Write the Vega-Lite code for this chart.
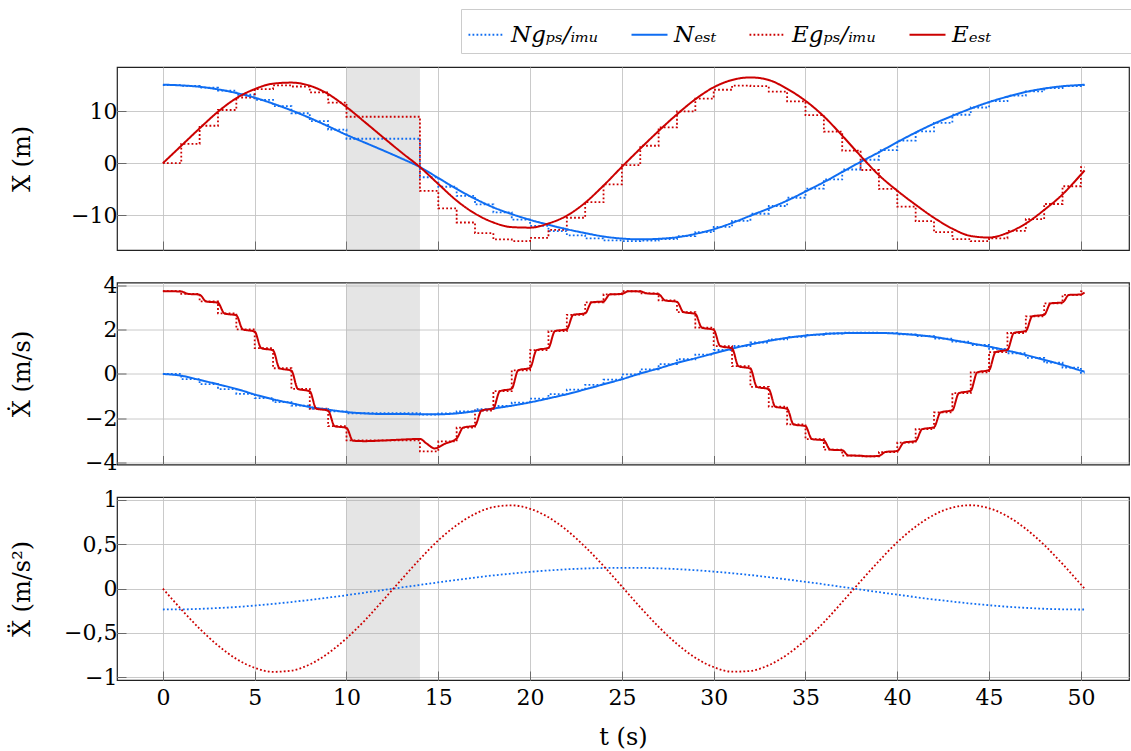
{
  "$schema": "https://vega.github.io/schema/vega-lite/v6.json",
  "background": "white",
  "padding": {"left": 9, "top": 8, "right": 0, "bottom": 0},
  "spacing": 32.5,
  "bounds": "flush",
  "config": {
    "font": "DejaVu Serif",
    "style": {
      "guide-title": {"font": "DejaVu Serif", "fontWeight": "normal"},
      "guide-label": {"font": "DejaVu Serif"}
    },
    "view": {"stroke": "#222222", "strokeWidth": 1.2},
    "axis": {
      "domain": false,
      "grid": true,
      "gridColor": "#c4c4c4",
      "gridWidth": 0.9,
      "ticks": true,
      "tickColor": "#6a6a6a",
      "tickSize": -9,
      "tickWidth": 1,
      "labelFont": "DejaVu Serif",
      "labelFontSize": 22,
      "labelColor": "#000000",
      "titleFont": "DejaVu Serif",
      "titleFontSize": 24,
      "titleFontWeight": "normal",
      "titleFontStyle": "normal",
      "titleColor": "#000000"
    },
    "legend": {
      "orient": "none",
      "legendX": 344,
      "legendY": -58,
      "direction": "horizontal",
      "columns": 4,
      "symbolType": "stroke",
      "symbolSize": 1296,
      "symbolStrokeWidth": 2.2,
      "labelFont": "DejaVu Serif",
      "labelFontSize": 23,
      "labelFontStyle": "italic",
      "labelColor": "#000000",
      "labelOffset": 5,
      "labelLimit": 0,
      "columnPadding": 28,
      "padding": 6,
      "strokeColor": "#cccccc",
      "fillColor": "white"
    }
  },
  "datasets": {
    "outage": [{"t": 10, "t2": 14}],
    "pos_gps": [
      {"t":0,"s":"Ngps","v":15.0},{"t":1,"s":"Ngps","v":14.88},{"t":2,"s":"Ngps","v":14.53},{"t":3,"s":"Ngps","v":13.95},{"t":4,"s":"Ngps","v":13.16},{"t":5,"s":"Ngps","v":12.16},{"t":6,"s":"Ngps","v":10.97},{"t":7,"s":"Ngps","v":9.6},{"t":8,"s":"Ngps","v":8.09},{"t":9,"s":"Ngps","v":6.44},{"t":10,"s":"Ngps","v":4.7},{"t":11,"s":"Ngps","v":4.7},{"t":12,"s":"Ngps","v":4.7},{"t":13,"s":"Ngps","v":4.7},{"t":14,"s":"Ngps","v":-2.71},{"t":15,"s":"Ngps","v":-4.53},{"t":16,"s":"Ngps","v":-6.28},{"t":17,"s":"Ngps","v":-7.93},{"t":18,"s":"Ngps","v":-9.46},{"t":19,"s":"Ngps","v":-10.84},{"t":20,"s":"Ngps","v":-12.05},{"t":21,"s":"Ngps","v":-13.08},{"t":22,"s":"Ngps","v":-13.87},{"t":23,"s":"Ngps","v":-14.46},{"t":24,"s":"Ngps","v":-14.86},{"t":25,"s":"Ngps","v":-15.0},{"t":26,"s":"Ngps","v":-14.91},{"t":27,"s":"Ngps","v":-14.58},{"t":28,"s":"Ngps","v":-14.03},{"t":29,"s":"Ngps","v":-13.26},{"t":30,"s":"Ngps","v":-12.24},{"t":31,"s":"Ngps","v":-11.09},{"t":32,"s":"Ngps","v":-9.73},{"t":33,"s":"Ngps","v":-8.24},{"t":34,"s":"Ngps","v":-6.65},{"t":35,"s":"Ngps","v":-4.89},{"t":36,"s":"Ngps","v":-3.13},{"t":37,"s":"Ngps","v":-1.22},{"t":38,"s":"Ngps","v":0.66},{"t":39,"s":"Ngps","v":2.52},{"t":40,"s":"Ngps","v":4.32},{"t":41,"s":"Ngps","v":6.11},{"t":42,"s":"Ngps","v":7.75},{"t":43,"s":"Ngps","v":9.32},{"t":44,"s":"Ngps","v":10.71},{"t":45,"s":"Ngps","v":11.93},{"t":46,"s":"Ngps","v":12.98},{"t":47,"s":"Ngps","v":13.81},{"t":48,"s":"Ngps","v":14.44},{"t":49,"s":"Ngps","v":14.84},{"t":50,"s":"Ngps","v":15.0},{"t":50.2,"s":"Ngps","v":15.0},
      {"t":0,"s":"Egps","v":0},{"t":1,"s":"Egps","v":3.72},{"t":2,"s":"Egps","v":7.2},{"t":3,"s":"Egps","v":10.23},{"t":4,"s":"Egps","v":12.63},{"t":5,"s":"Egps","v":14.25},{"t":6,"s":"Egps","v":14.96},{"t":7,"s":"Egps","v":14.75},{"t":8,"s":"Egps","v":13.62},{"t":9,"s":"Egps","v":11.64},{"t":10,"s":"Egps","v":8.93},{"t":11,"s":"Egps","v":8.93},{"t":12,"s":"Egps","v":8.93},{"t":13,"s":"Egps","v":8.93},{"t":14,"s":"Egps","v":-5.32},{"t":15,"s":"Egps","v":-8.68},{"t":16,"s":"Egps","v":-11.41},{"t":17,"s":"Egps","v":-13.45},{"t":18,"s":"Egps","v":-14.67},{"t":19,"s":"Egps","v":-14.99},{"t":20,"s":"Egps","v":-14.36},{"t":21,"s":"Egps","v":-12.84},{"t":22,"s":"Egps","v":-10.5},{"t":23,"s":"Egps","v":-7.51},{"t":24,"s":"Egps","v":-4.08},{"t":25,"s":"Egps","v":-0.38},{"t":26,"s":"Egps","v":3.35},{"t":27,"s":"Egps","v":6.87},{"t":28,"s":"Egps","v":9.96},{"t":29,"s":"Egps","v":12.43},{"t":30,"s":"Egps","v":14.12},{"t":31,"s":"Egps","v":14.93},{"t":32,"s":"Egps","v":14.82},{"t":33,"s":"Egps","v":13.78},{"t":34,"s":"Egps","v":11.88},{"t":35,"s":"Egps","v":9.24},{"t":36,"s":"Egps","v":6.06},{"t":37,"s":"Egps","v":2.43},{"t":38,"s":"Egps","v":-1.31},{"t":39,"s":"Egps","v":-4.96},{"t":40,"s":"Egps","v":-8.37},{"t":41,"s":"Egps","v":-11.16},{"t":42,"s":"Egps","v":-13.28},{"t":43,"s":"Egps","v":-14.59},{"t":44,"s":"Egps","v":-15.0},{"t":45,"s":"Egps","v":-14.45},{"t":46,"s":"Egps","v":-13.01},{"t":47,"s":"Egps","v":-10.76},{"t":48,"s":"Egps","v":-7.85},{"t":49,"s":"Egps","v":-4.44},{"t":50,"s":"Egps","v":-0.75},{"t":50.2,"s":"Egps","v":-0.75}
    ],
    "pos_est": [
      {"t":0,"s":"Nest","v":15.1},{"t":1,"s":"Nest","v":14.96},{"t":2,"s":"Nest","v":14.7},{"t":3,"s":"Nest","v":14.2},{"t":4,"s":"Nest","v":13.5},{"t":5,"s":"Nest","v":12.6},{"t":6,"s":"Nest","v":11.45},{"t":7,"s":"Nest","v":10.15},{"t":8,"s":"Nest","v":8.7},{"t":9,"s":"Nest","v":7.1},{"t":10,"s":"Nest","v":5.45},{"t":11,"s":"Nest","v":3.95},{"t":12,"s":"Nest","v":2.45},{"t":13,"s":"Nest","v":0.9},{"t":14,"s":"Nest","v":-0.75},{"t":15,"s":"Nest","v":-2.85},{"t":16,"s":"Nest","v":-4.95},{"t":17,"s":"Nest","v":-6.85},{"t":18,"s":"Nest","v":-8.5},{"t":19,"s":"Nest","v":-9.8},{"t":20,"s":"Nest","v":-10.9},{"t":21,"s":"Nest","v":-11.85},{"t":22,"s":"Nest","v":-12.7},{"t":23,"s":"Nest","v":-13.45},{"t":24,"s":"Nest","v":-14.1},{"t":25,"s":"Nest","v":-14.5},{"t":26,"s":"Nest","v":-14.65},{"t":27,"s":"Nest","v":-14.55},{"t":28,"s":"Nest","v":-14.25},{"t":29,"s":"Nest","v":-13.6},{"t":30,"s":"Nest","v":-12.7},{"t":31,"s":"Nest","v":-11.5},{"t":32,"s":"Nest","v":-10.1},{"t":33,"s":"Nest","v":-8.7},{"t":34,"s":"Nest","v":-7.2},{"t":35,"s":"Nest","v":-5.45},{"t":36,"s":"Nest","v":-3.65},{"t":37,"s":"Nest","v":-1.7},{"t":38,"s":"Nest","v":0.25},{"t":39,"s":"Nest","v":2.1},{"t":40,"s":"Nest","v":4.05},{"t":41,"s":"Nest","v":5.9},{"t":42,"s":"Nest","v":7.6},{"t":43,"s":"Nest","v":9.1},{"t":44,"s":"Nest","v":10.5},{"t":45,"s":"Nest","v":11.75},{"t":46,"s":"Nest","v":12.8},{"t":47,"s":"Nest","v":13.7},{"t":48,"s":"Nest","v":14.35},{"t":49,"s":"Nest","v":14.8},{"t":50,"s":"Nest","v":15.05},{"t":50.2,"s":"Nest","v":15.1},
      {"t":0,"s":"Eest","v":0},{"t":1,"s":"Eest","v":3.35},{"t":2,"s":"Eest","v":6.7},{"t":3,"s":"Eest","v":9.9},{"t":4,"s":"Eest","v":12.5},{"t":5,"s":"Eest","v":14.25},{"t":6,"s":"Eest","v":15.3},{"t":7,"s":"Eest","v":15.5},{"t":8,"s":"Eest","v":14.9},{"t":9,"s":"Eest","v":13.3},{"t":10,"s":"Eest","v":10.8},{"t":11,"s":"Eest","v":7.9},{"t":12,"s":"Eest","v":4.95},{"t":13,"s":"Eest","v":2.05},{"t":14,"s":"Eest","v":-0.75},{"t":15,"s":"Eest","v":-4.0},{"t":16,"s":"Eest","v":-7.2},{"t":17,"s":"Eest","v":-9.7},{"t":18,"s":"Eest","v":-11.4},{"t":19,"s":"Eest","v":-12.3},{"t":20,"s":"Eest","v":-12.4},{"t":21,"s":"Eest","v":-11.6},{"t":22,"s":"Eest","v":-10.1},{"t":23,"s":"Eest","v":-7.6},{"t":24,"s":"Eest","v":-4.3},{"t":25,"s":"Eest","v":-0.7},{"t":26,"s":"Eest","v":2.8},{"t":27,"s":"Eest","v":6.2},{"t":28,"s":"Eest","v":9.4},{"t":29,"s":"Eest","v":12.3},{"t":30,"s":"Eest","v":14.6},{"t":31,"s":"Eest","v":16.0},{"t":32,"s":"Eest","v":16.5},{"t":33,"s":"Eest","v":16.0},{"t":34,"s":"Eest","v":14.3},{"t":35,"s":"Eest","v":12.0},{"t":36,"s":"Eest","v":9.0},{"t":37,"s":"Eest","v":5.3},{"t":38,"s":"Eest","v":1.4},{"t":39,"s":"Eest","v":-2.3},{"t":40,"s":"Eest","v":-5.3},{"t":41,"s":"Eest","v":-8.0},{"t":42,"s":"Eest","v":-10.5},{"t":43,"s":"Eest","v":-12.6},{"t":44,"s":"Eest","v":-14.0},{"t":45,"s":"Eest","v":-14.3},{"t":46,"s":"Eest","v":-13.4},{"t":47,"s":"Eest","v":-11.6},{"t":48,"s":"Eest","v":-9.0},{"t":49,"s":"Eest","v":-6.0},{"t":50,"s":"Eest","v":-2.2},{"t":50.2,"s":"Eest","v":-1.4}
    ],
    "vel_gps": [
      {"t":0,"s":"Ngps","v":0},{"t":1,"s":"Ngps","v":-0.234},{"t":2,"s":"Ngps","v":-0.465},{"t":3,"s":"Ngps","v":-0.688},{"t":4,"s":"Ngps","v":-0.901},{"t":5,"s":"Ngps","v":-1.099},{"t":6,"s":"Ngps","v":-1.281},{"t":7,"s":"Ngps","v":-1.442},{"t":8,"s":"Ngps","v":-1.581},{"t":9,"s":"Ngps","v":-1.695},{"t":10,"s":"Ngps","v":-1.783},{"t":11,"s":"Ngps","v":-1.783},{"t":12,"s":"Ngps","v":-1.783},{"t":13,"s":"Ngps","v":-1.783},{"t":14,"s":"Ngps","v":-1.846},{"t":15,"s":"Ngps","v":-1.789},{"t":16,"s":"Ngps","v":-1.705},{"t":17,"s":"Ngps","v":-1.593},{"t":18,"s":"Ngps","v":-1.456},{"t":19,"s":"Ngps","v":-1.298},{"t":20,"s":"Ngps","v":-1.118},{"t":21,"s":"Ngps","v":-0.919},{"t":22,"s":"Ngps","v":-0.715},{"t":23,"s":"Ngps","v":-0.497},{"t":24,"s":"Ngps","v":-0.258},{"t":25,"s":"Ngps","v":-0.023},{"t":26,"s":"Ngps","v":0.211},{"t":27,"s":"Ngps","v":0.444},{"t":28,"s":"Ngps","v":0.666},{"t":29,"s":"Ngps","v":0.877},{"t":30,"s":"Ngps","v":1.086},{"t":31,"s":"Ngps","v":1.267},{"t":32,"s":"Ngps","v":1.428},{"t":33,"s":"Ngps","v":1.57},{"t":34,"s":"Ngps","v":1.683},{"t":35,"s":"Ngps","v":1.774},{"t":36,"s":"Ngps","v":1.836},{"t":37,"s":"Ngps","v":1.871},{"t":38,"s":"Ngps","v":1.875},{"t":39,"s":"Ngps","v":1.85},{"t":40,"s":"Ngps","v":1.797},{"t":41,"s":"Ngps","v":1.715},{"t":42,"s":"Ngps","v":1.607},{"t":43,"s":"Ngps","v":1.47},{"t":44,"s":"Ngps","v":1.314},{"t":45,"s":"Ngps","v":1.14},{"t":46,"s":"Ngps","v":0.94},{"t":47,"s":"Ngps","v":0.73},{"t":48,"s":"Ngps","v":0.51},{"t":49,"s":"Ngps","v":0.283},{"t":50,"s":"Ngps","v":0.047},{"t":50.2,"s":"Ngps","v":0.047},
      {"t":0,"s":"Egps","v":3.755},{"t":1,"s":"Egps","v":3.638},{"t":2,"s":"Egps","v":3.294},{"t":3,"s":"Egps","v":2.745},{"t":4,"s":"Egps","v":2.025},{"t":5,"s":"Egps","v":1.176},{"t":6,"s":"Egps","v":0.258},{"t":7,"s":"Egps","v":-0.678},{"t":8,"s":"Egps","v":-1.571},{"t":9,"s":"Egps","v":-2.369},{"t":10,"s":"Egps","v":-3.017},{"t":11,"s":"Egps","v":-3.017},{"t":12,"s":"Egps","v":-3.017},{"t":13,"s":"Egps","v":-3.017},{"t":14,"s":"Egps","v":-3.511},{"t":15,"s":"Egps","v":-3.063},{"t":16,"s":"Egps","v":-2.437},{"t":17,"s":"Egps","v":-1.664},{"t":18,"s":"Egps","v":-0.784},{"t":19,"s":"Egps","v":0.164},{"t":20,"s":"Egps","v":1.082},{"t":21,"s":"Egps","v":1.941},{"t":22,"s":"Egps","v":2.682},{"t":23,"s":"Egps","v":3.25},{"t":24,"s":"Egps","v":3.613},{"t":25,"s":"Egps","v":3.754},{"t":26,"s":"Egps","v":3.66},{"t":27,"s":"Egps","v":3.338},{"t":28,"s":"Egps","v":2.808},{"t":29,"s":"Egps","v":2.103},{"t":30,"s":"Egps","v":1.265},{"t":31,"s":"Egps","v":0.352},{"t":32,"s":"Egps","v":-0.585},{"t":33,"s":"Egps","v":-1.484},{"t":34,"s":"Egps","v":-2.292},{"t":35,"s":"Egps","v":-2.957},{"t":36,"s":"Egps","v":-3.435},{"t":37,"s":"Egps","v":-3.705},{"t":38,"s":"Egps","v":-3.741},{"t":39,"s":"Egps","v":-3.544},{"t":40,"s":"Egps","v":-3.117},{"t":41,"s":"Egps","v":-2.508},{"t":42,"s":"Egps","v":-1.748},{"t":43,"s":"Egps","v":-0.875},{"t":44,"s":"Egps","v":0.07},{"t":45,"s":"Egps","v":0.992},{"t":46,"s":"Egps","v":1.859},{"t":47,"s":"Egps","v":2.615},{"t":48,"s":"Egps","v":3.202},{"t":49,"s":"Egps","v":3.587},{"t":50,"s":"Egps","v":3.75},{"t":50.2,"s":"Egps","v":3.75}
    ],
    "vel_est": [
      {"t":0,"s":"Nest","v":0},{"t":1,"s":"Nest","v":-0.08},{"t":2,"s":"Nest","v":-0.27},{"t":3,"s":"Nest","v":-0.47},{"t":4,"s":"Nest","v":-0.68},{"t":5,"s":"Nest","v":-0.93},{"t":6,"s":"Nest","v":-1.15},{"t":7,"s":"Nest","v":-1.33},{"t":8,"s":"Nest","v":-1.5},{"t":9,"s":"Nest","v":-1.62},{"t":10,"s":"Nest","v":-1.73},{"t":11,"s":"Nest","v":-1.79},{"t":12,"s":"Nest","v":-1.82},{"t":13,"s":"Nest","v":-1.82},{"t":14,"s":"Nest","v":-1.83},{"t":15,"s":"Nest","v":-1.83},{"t":16,"s":"Nest","v":-1.79},{"t":17,"s":"Nest","v":-1.69},{"t":18,"s":"Nest","v":-1.57},{"t":19,"s":"Nest","v":-1.44},{"t":20,"s":"Nest","v":-1.29},{"t":21,"s":"Nest","v":-1.11},{"t":22,"s":"Nest","v":-0.92},{"t":23,"s":"Nest","v":-0.7},{"t":24,"s":"Nest","v":-0.47},{"t":25,"s":"Nest","v":-0.24},{"t":26,"s":"Nest","v":0.02},{"t":27,"s":"Nest","v":0.25},{"t":28,"s":"Nest","v":0.5},{"t":29,"s":"Nest","v":0.71},{"t":30,"s":"Nest","v":0.93},{"t":31,"s":"Nest","v":1.15},{"t":32,"s":"Nest","v":1.34},{"t":33,"s":"Nest","v":1.5},{"t":34,"s":"Nest","v":1.64},{"t":35,"s":"Nest","v":1.74},{"t":36,"s":"Nest","v":1.81},{"t":37,"s":"Nest","v":1.85},{"t":38,"s":"Nest","v":1.86},{"t":39,"s":"Nest","v":1.86},{"t":40,"s":"Nest","v":1.83},{"t":41,"s":"Nest","v":1.77},{"t":42,"s":"Nest","v":1.68},{"t":43,"s":"Nest","v":1.54},{"t":44,"s":"Nest","v":1.39},{"t":45,"s":"Nest","v":1.24},{"t":46,"s":"Nest","v":1.06},{"t":47,"s":"Nest","v":0.86},{"t":48,"s":"Nest","v":0.64},{"t":49,"s":"Nest","v":0.41},{"t":50,"s":"Nest","v":0.15},{"t":50.2,"s":"Nest","v":0.1},
      {"t":0,"s":"Eest","v":3.755},{"t":1,"s":"Eest","v":3.741},{"t":1.35,"s":"Eest","v":3.638},{"t":2,"s":"Eest","v":3.597},{"t":2.35,"s":"Eest","v":3.294},{"t":3,"s":"Eest","v":3.228},{"t":3.35,"s":"Eest","v":2.745},{"t":4,"s":"Eest","v":2.659},{"t":4.35,"s":"Eest","v":2.025},{"t":5,"s":"Eest","v":1.923},{"t":5.35,"s":"Eest","v":1.176},{"t":6,"s":"Eest","v":1.066},{"t":6.35,"s":"Eest","v":0.258},{"t":7,"s":"Eest","v":0.146},{"t":7.35,"s":"Eest","v":-0.678},{"t":8,"s":"Eest","v":-0.785},{"t":8.35,"s":"Eest","v":-1.571},{"t":9,"s":"Eest","v":-1.666},{"t":9.35,"s":"Eest","v":-2.369},{"t":10,"s":"Eest","v":-2.447},{"t":10.35,"s":"Eest","v":-3.03},{"t":11,"s":"Eest","v":-3.05},{"t":12,"s":"Eest","v":-3.02},{"t":13,"s":"Eest","v":-2.98},{"t":14,"s":"Eest","v":-2.95},{"t":14.35,"s":"Eest","v":-3.15},{"t":14.8,"s":"Eest","v":-3.38},{"t":15.35,"s":"Eest","v":-3.17},{"t":16,"s":"Eest","v":-2.93},{"t":16.35,"s":"Eest","v":-2.437},{"t":17,"s":"Eest","v":-2.344},{"t":17.35,"s":"Eest","v":-1.664},{"t":18,"s":"Eest","v":-1.558},{"t":18.35,"s":"Eest","v":-0.784},{"t":19,"s":"Eest","v":-0.67},{"t":19.35,"s":"Eest","v":0.164},{"t":20,"s":"Eest","v":0.274},{"t":20.35,"s":"Eest","v":1.082},{"t":21,"s":"Eest","v":1.185},{"t":21.35,"s":"Eest","v":1.941},{"t":22,"s":"Eest","v":2.03},{"t":22.35,"s":"Eest","v":2.682},{"t":23,"s":"Eest","v":2.75},{"t":23.35,"s":"Eest","v":3.25},{"t":24,"s":"Eest","v":3.294},{"t":24.35,"s":"Eest","v":3.613},{"t":25,"s":"Eest","v":3.63},{"t":25.35,"s":"Eest","v":3.754},{"t":26,"s":"Eest","v":3.743},{"t":26.35,"s":"Eest","v":3.66},{"t":27,"s":"Eest","v":3.621},{"t":27.35,"s":"Eest","v":3.338},{"t":28,"s":"Eest","v":3.274},{"t":28.35,"s":"Eest","v":2.808},{"t":29,"s":"Eest","v":2.723},{"t":29.35,"s":"Eest","v":2.103},{"t":30,"s":"Eest","v":2.002},{"t":30.35,"s":"Eest","v":1.265},{"t":31,"s":"Eest","v":1.155},{"t":31.35,"s":"Eest","v":0.352},{"t":32,"s":"Eest","v":0.24},{"t":32.35,"s":"Eest","v":-0.585},{"t":33,"s":"Eest","v":-0.693},{"t":33.35,"s":"Eest","v":-1.484},{"t":34,"s":"Eest","v":-1.581},{"t":34.35,"s":"Eest","v":-2.292},{"t":35,"s":"Eest","v":-2.372},{"t":35.35,"s":"Eest","v":-2.957},{"t":36,"s":"Eest","v":-3.014},{"t":36.35,"s":"Eest","v":-3.435},{"t":37,"s":"Eest","v":-3.467},{"t":37.35,"s":"Eest","v":-3.705},{"t":38,"s":"Eest","v":-3.709},{"t":38.35,"s":"Eest","v":-3.741},{"t":39,"s":"Eest","v":-3.717},{"t":39.35,"s":"Eest","v":-3.544},{"t":40,"s":"Eest","v":-3.493},{"t":40.35,"s":"Eest","v":-3.117},{"t":41,"s":"Eest","v":-3.044},{"t":41.35,"s":"Eest","v":-2.508},{"t":42,"s":"Eest","v":-2.417},{"t":42.35,"s":"Eest","v":-1.748},{"t":43,"s":"Eest","v":-1.643},{"t":43.35,"s":"Eest","v":-0.875},{"t":44,"s":"Eest","v":-0.762},{"t":44.35,"s":"Eest","v":0.07},{"t":45,"s":"Eest","v":0.181},{"t":45.35,"s":"Eest","v":0.992},{"t":46,"s":"Eest","v":1.096},{"t":46.35,"s":"Eest","v":1.859},{"t":47,"s":"Eest","v":1.95},{"t":47.35,"s":"Eest","v":2.615},{"t":48,"s":"Eest","v":2.685},{"t":48.35,"s":"Eest","v":3.202},{"t":49,"s":"Eest","v":3.248},{"t":49.35,"s":"Eest","v":3.587},{"t":50,"s":"Eest","v":3.607},{"t":50.2,"s":"Eest","v":3.7}
    ],
    "acc": [
      {"t":0,"s":"Ngps","v":-0.235},{"t":1,"s":"Ngps","v":-0.234},{"t":2,"s":"Ngps","v":-0.228},{"t":3,"s":"Ngps","v":-0.219},{"t":4,"s":"Ngps","v":-0.207},{"t":5,"s":"Ngps","v":-0.191},{"t":6,"s":"Ngps","v":-0.172},{"t":7,"s":"Ngps","v":-0.151},{"t":8,"s":"Ngps","v":-0.127},{"t":9,"s":"Ngps","v":-0.101},{"t":10,"s":"Ngps","v":-0.074},{"t":11,"s":"Ngps","v":-0.045},{"t":12,"s":"Ngps","v":-0.016},{"t":13,"s":"Ngps","v":0.013},{"t":14,"s":"Ngps","v":0.042},{"t":15,"s":"Ngps","v":0.071},{"t":16,"s":"Ngps","v":0.099},{"t":17,"s":"Ngps","v":0.125},{"t":18,"s":"Ngps","v":0.149},{"t":19,"s":"Ngps","v":0.17},{"t":20,"s":"Ngps","v":0.189},{"t":21,"s":"Ngps","v":0.205},{"t":22,"s":"Ngps","v":0.218},{"t":23,"s":"Ngps","v":0.227},{"t":24,"s":"Ngps","v":0.233},{"t":25,"s":"Ngps","v":0.235},{"t":26,"s":"Ngps","v":0.234},{"t":27,"s":"Ngps","v":0.229},{"t":28,"s":"Ngps","v":0.22},{"t":29,"s":"Ngps","v":0.208},{"t":30,"s":"Ngps","v":0.192},{"t":31,"s":"Ngps","v":0.174},{"t":32,"s":"Ngps","v":0.153},{"t":33,"s":"Ngps","v":0.129},{"t":34,"s":"Ngps","v":0.104},{"t":35,"s":"Ngps","v":0.077},{"t":36,"s":"Ngps","v":0.049},{"t":37,"s":"Ngps","v":0.019},{"t":38,"s":"Ngps","v":-0.01},{"t":39,"s":"Ngps","v":-0.04},{"t":40,"s":"Ngps","v":-0.068},{"t":41,"s":"Ngps","v":-0.096},{"t":42,"s":"Ngps","v":-0.122},{"t":43,"s":"Ngps","v":-0.146},{"t":44,"s":"Ngps","v":-0.168},{"t":45,"s":"Ngps","v":-0.187},{"t":46,"s":"Ngps","v":-0.204},{"t":47,"s":"Ngps","v":-0.217},{"t":48,"s":"Ngps","v":-0.227},{"t":49,"s":"Ngps","v":-0.233},{"t":50,"s":"Ngps","v":-0.235},{"t":50.2,"s":"Ngps","v":-0.235},
      {"t":0,"s":"Egps","v":0},{"t":1,"s":"Egps","v":-0.233},{"t":2,"s":"Egps","v":-0.451},{"t":3,"s":"Egps","v":-0.641},{"t":4,"s":"Egps","v":-0.792},{"t":5,"s":"Egps","v":-0.893},{"t":6,"s":"Egps","v":-0.938},{"t":7,"s":"Egps","v":-0.924},{"t":8,"s":"Egps","v":-0.854},{"t":9,"s":"Egps","v":-0.729},{"t":10,"s":"Egps","v":-0.56},{"t":11,"s":"Egps","v":-0.358},{"t":12,"s":"Egps","v":-0.129},{"t":13,"s":"Egps","v":0.105},{"t":14,"s":"Egps","v":0.333},{"t":15,"s":"Egps","v":0.544},{"t":16,"s":"Egps","v":0.715},{"t":17,"s":"Egps","v":0.843},{"t":18,"s":"Egps","v":0.919},{"t":19,"s":"Egps","v":0.939},{"t":20,"s":"Egps","v":0.9},{"t":21,"s":"Egps","v":0.805},{"t":22,"s":"Egps","v":0.658},{"t":23,"s":"Egps","v":0.471},{"t":24,"s":"Egps","v":0.256},{"t":25,"s":"Egps","v":0.024},{"t":26,"s":"Egps","v":-0.21},{"t":27,"s":"Egps","v":-0.43},{"t":28,"s":"Egps","v":-0.624},{"t":29,"s":"Egps","v":-0.779},{"t":30,"s":"Egps","v":-0.885},{"t":31,"s":"Egps","v":-0.936},{"t":32,"s":"Egps","v":-0.928},{"t":33,"s":"Egps","v":-0.863},{"t":34,"s":"Egps","v":-0.744},{"t":35,"s":"Egps","v":-0.579},{"t":36,"s":"Egps","v":-0.38},{"t":37,"s":"Egps","v":-0.152},{"t":38,"s":"Egps","v":0.082},{"t":39,"s":"Egps","v":0.311},{"t":40,"s":"Egps","v":0.524},{"t":41,"s":"Egps","v":0.699},{"t":42,"s":"Egps","v":0.832},{"t":43,"s":"Egps","v":0.914},{"t":44,"s":"Egps","v":0.94},{"t":45,"s":"Egps","v":0.906},{"t":46,"s":"Egps","v":0.815},{"t":47,"s":"Egps","v":0.674},{"t":48,"s":"Egps","v":0.492},{"t":49,"s":"Egps","v":0.278},{"t":50,"s":"Egps","v":0.047},{"t":50.2,"s":"Egps","v":0.0}
    ]
  },
  "vconcat": [
    {
      "width": 1012,
      "height": 183,
      "encoding": {
        "x": {"field": "t", "type": "quantitative",
          "scale": {"domain": [-2.5, 52.62], "nice": false, "zero": false},
          "axis": {"values": [0,5,10,15,20,25,30,35,40,45,50], "labels": false, "title": null}}
      },
      "layer": [
        {"data": {"name": "outage"}, "mark": {"type": "rect", "fill": "#a8a8a8", "opacity": 0.3}, "encoding": {"x2": {"field": "t2"}}},
        {"data": {"name": "pos_gps"}, "mark": {"type": "line", "interpolate": "step-after", "strokeWidth": 1.8},
          "encoding": {
            "y": {"field": "v", "type": "quantitative", "scale": {"domain": [-16.7, 18.5], "nice": false, "zero": false},
              "axis": {"values": [-10, 0, 10], "title": "X (m)", "titleFont": "DejaVu Serif", "titleX": -88, "titleBaseline": "alphabetic", "labelPadding": 9}},
            "color": {"field": "s", "type": "nominal", "scale": {"domain": ["Ngps","Nest","Egps","Eest"], "range": ["#0f6df2","#0f6df2","#cc0000","#cc0000"]},
              "legend": {"title": null, "labelExpr": "{'Ngps':'Ngₚₛ/ᵢₘᵤ','Nest':'Nₑₛₜ','Egps':'Egₚₛ/ᵢₘᵤ','Eest':'Eₑₛₜ\u2800\u2800\u2800\u2800\u2800\u2800\u2800\u2800'}[datum.label]"}},
            "strokeDash": {"field": "s", "type": "nominal", "scale": {"domain": ["Ngps","Nest","Egps","Eest"], "range": [[1.8,2.2],[1,0],[1.8,2.2],[1,0]]},
              "legend": {"title": null, "labelExpr": "{'Ngps':'Ngₚₛ/ᵢₘᵤ','Nest':'Nₑₛₜ','Egps':'Egₚₛ/ᵢₘᵤ','Eest':'Eₑₛₜ\u2800\u2800\u2800\u2800\u2800\u2800\u2800\u2800'}[datum.label]"}}
          }},
        {"data": {"name": "pos_est"}, "mark": {"type": "line", "interpolate": "monotone", "strokeWidth": 2},
          "encoding": {
            "y": {"field": "v", "type": "quantitative", "scale": {"domain": [-16.7, 18.5], "nice": false, "zero": false},
              "axis": {"values": [-10, 0, 10], "title": "X (m)", "titleFont": "DejaVu Serif", "titleX": -88, "titleBaseline": "alphabetic", "labelPadding": 9}},
            "color": {"field": "s", "type": "nominal", "scale": {"domain": ["Ngps","Nest","Egps","Eest"], "range": ["#0f6df2","#0f6df2","#cc0000","#cc0000"]},
              "legend": {"title": null, "labelExpr": "{'Ngps':'Ngₚₛ/ᵢₘᵤ','Nest':'Nₑₛₜ','Egps':'Egₚₛ/ᵢₘᵤ','Eest':'Eₑₛₜ\u2800\u2800\u2800\u2800\u2800\u2800\u2800\u2800'}[datum.label]"}},
            "strokeDash": {"field": "s", "type": "nominal", "scale": {"domain": ["Ngps","Nest","Egps","Eest"], "range": [[1.8,2.2],[1,0],[1.8,2.2],[1,0]]},
              "legend": {"title": null, "labelExpr": "{'Ngps':'Ngₚₛ/ᵢₘᵤ','Nest':'Nₑₛₜ','Egps':'Egₚₛ/ᵢₘᵤ','Eest':'Eₑₛₜ\u2800\u2800\u2800\u2800\u2800\u2800\u2800\u2800'}[datum.label]"}}
          }}
      ]
    },
    {
      "width": 1012,
      "height": 182,
      "encoding": {
        "x": {"field": "t", "type": "quantitative",
          "scale": {"domain": [-2.5, 52.62], "nice": false, "zero": false},
          "axis": {"values": [0,5,10,15,20,25,30,35,40,45,50], "labels": false, "title": null}}
      },
      "layer": [
        {"data": {"name": "outage"}, "mark": {"type": "rect", "fill": "#a8a8a8", "opacity": 0.3}, "encoding": {"x2": {"field": "t2"}}},
        {"data": {"name": "vel_gps"}, "mark": {"type": "line", "interpolate": "step-after", "strokeWidth": 1.8},
          "encoding": {
            "y": {"field": "v", "type": "quantitative", "scale": {"domain": [-4.11, 4.15], "nice": false, "zero": false},
              "axis": {"values": [-4, -2, 0, 2, 4], "title": "Ẋ (m/s)", "titleFont": "DejaVu Serif", "titleX": -88, "titleBaseline": "alphabetic", "labelPadding": 9}},
            "color": {"field": "s", "type": "nominal", "scale": {"domain": ["Ngps","Nest","Egps","Eest"], "range": ["#0f6df2","#0f6df2","#cc0000","#cc0000"]},
              "legend": {"title": null, "labelExpr": "{'Ngps':'Ngₚₛ/ᵢₘᵤ','Nest':'Nₑₛₜ','Egps':'Egₚₛ/ᵢₘᵤ','Eest':'Eₑₛₜ\u2800\u2800\u2800\u2800\u2800\u2800\u2800\u2800'}[datum.label]"}},
            "strokeDash": {"field": "s", "type": "nominal", "scale": {"domain": ["Ngps","Nest","Egps","Eest"], "range": [[1.8,2.2],[1,0],[1.8,2.2],[1,0]]},
              "legend": {"title": null, "labelExpr": "{'Ngps':'Ngₚₛ/ᵢₘᵤ','Nest':'Nₑₛₜ','Egps':'Egₚₛ/ᵢₘᵤ','Eest':'Eₑₛₜ\u2800\u2800\u2800\u2800\u2800\u2800\u2800\u2800'}[datum.label]"}}
          }},
        {"data": {"name": "vel_est"}, "mark": {"type": "line", "interpolate": "monotone", "strokeWidth": 2},
          "encoding": {
            "y": {"field": "v", "type": "quantitative", "scale": {"domain": [-4.11, 4.15], "nice": false, "zero": false},
              "axis": {"values": [-4, -2, 0, 2, 4], "title": "Ẋ (m/s)", "titleFont": "DejaVu Serif", "titleX": -88, "titleBaseline": "alphabetic", "labelPadding": 9}},
            "color": {"field": "s", "type": "nominal", "scale": {"domain": ["Ngps","Nest","Egps","Eest"], "range": ["#0f6df2","#0f6df2","#cc0000","#cc0000"]},
              "legend": {"title": null, "labelExpr": "{'Ngps':'Ngₚₛ/ᵢₘᵤ','Nest':'Nₑₛₜ','Egps':'Egₚₛ/ᵢₘᵤ','Eest':'Eₑₛₜ\u2800\u2800\u2800\u2800\u2800\u2800\u2800\u2800'}[datum.label]"}},
            "strokeDash": {"field": "s", "type": "nominal", "scale": {"domain": ["Ngps","Nest","Egps","Eest"], "range": [[1.8,2.2],[1,0],[1.8,2.2],[1,0]]},
              "legend": {"title": null, "labelExpr": "{'Ngps':'Ngₚₛ/ᵢₘᵤ','Nest':'Nₑₛₜ','Egps':'Egₚₛ/ᵢₘᵤ','Eest':'Eₑₛₜ\u2800\u2800\u2800\u2800\u2800\u2800\u2800\u2800'}[datum.label]"}}
          }}
      ]
    },
    {
      "width": 1012,
      "height": 183,
      "encoding": {
        "x": {"field": "t", "type": "quantitative",
          "scale": {"domain": [-2.5, 52.62], "nice": false, "zero": false},
          "axis": {"values": [0,5,10,15,20,25,30,35,40,45,50], "title": "t (s)", "titleFont": "DejaVu Serif", "labelPadding": 16, "titleY": 64, "titleBaseline": "alphabetic"}}
      },
      "layer": [
        {"data": {"name": "outage"}, "mark": {"type": "rect", "fill": "#a8a8a8", "opacity": 0.3}, "encoding": {"x2": {"field": "t2"}}},
        {"data": {"name": "acc"}, "mark": {"type": "line", "interpolate": "monotone", "strokeWidth": 1.8},
          "encoding": {
            "y": {"field": "v", "type": "quantitative", "scale": {"domain": [-1.03, 1.033], "nice": false, "zero": false},
              "axis": {"values": [-1, -0.5, 0, 0.5, 1], "format": ".1~f", "title": "Ẍ (m/s²)", "titleFont": "DejaVu Serif", "titleX": -88, "titleBaseline": "alphabetic", "labelPadding": 9, "labelExpr": "replace(datum.label, '.', ',')"}},
            "color": {"field": "s", "type": "nominal", "scale": {"domain": ["Ngps","Nest","Egps","Eest"], "range": ["#0f6df2","#0f6df2","#cc0000","#cc0000"]},
              "legend": {"title": null, "labelExpr": "{'Ngps':'Ngₚₛ/ᵢₘᵤ','Nest':'Nₑₛₜ','Egps':'Egₚₛ/ᵢₘᵤ','Eest':'Eₑₛₜ\u2800\u2800\u2800\u2800\u2800\u2800\u2800\u2800'}[datum.label]"}},
            "strokeDash": {"field": "s", "type": "nominal", "scale": {"domain": ["Ngps","Nest","Egps","Eest"], "range": [[1.8,2.2],[1,0],[1.8,2.2],[1,0]]},
              "legend": {"title": null, "labelExpr": "{'Ngps':'Ngₚₛ/ᵢₘᵤ','Nest':'Nₑₛₜ','Egps':'Egₚₛ/ᵢₘᵤ','Eest':'Eₑₛₜ\u2800\u2800\u2800\u2800\u2800\u2800\u2800\u2800'}[datum.label]"}}
          }}
      ]
    }
  ]
}
